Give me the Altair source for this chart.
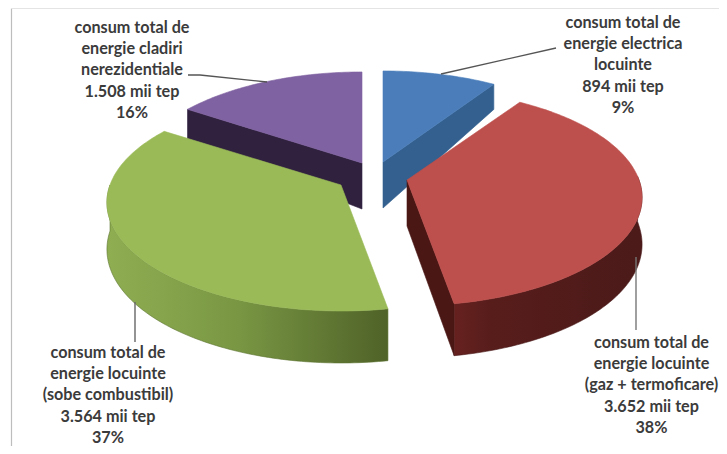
import math
import altair as alt
import pandas as pd

categories = [
    "consum total de energie electrica locuinte",
    "consum total de energie locuinte (gaz + termoficare)",
    "consum total de energie locuinte (sobe combustibil)",
    "consum total de energie cladiri nerezidentiale",
]
values = [894, 3652, 3564, 1508]
value_labels = ["894 mii tep", "3.652 mii tep", "3.564 mii tep", "1.508 mii tep"]
percents = ["9%", "38%", "37%", "16%"]
name_lines = [
    ["consum total de", "energie electrica", "locuinte"],
    ["consum total de", "energie locuinte", "(gaz + termoficare)"],
    ["consum total de", "energie locuinte", "(sobe combustibil)"],
    ["consum total de", "energie cladiri", "nerezidentiale"],
]

# layout of the exploded, tilted pie
W, H = 711, 438
APEX = [(383, 162), (407, 180), (341, 185), (362, 163)]
RX = [228, 232, 231, 228]
RY, PERSP = 105.7, 0.161
TOP_COL = ["#4a7dba", "#bd4f4c", "#9aba58", "#7f62a1"]
LABEL_POS = [(623, 23), (651.5, 343), (108, 353), (132, 28)]
LINE_H = 21.2

xs = alt.Scale(domain=[8, 8 + W], range=[0, W], nice=False, zero=False)
ys = alt.Scale(domain=[8 + H, 8], nice=False, zero=False)


def project(i, a):
    u, v = math.sin(a), -math.cos(a)
    k = 1 - PERSP * v
    return u * RX[i] / k, RY * v / k, v


def depth(v):
    return 46 + 25 * v if v < 0 else 46 + 6 * v


def rim(i, a):
    dx, dy, v = project(i, a)
    return APEX[i][0] + dx, APEX[i][1] + dy, depth(v)


def poly(points, fill, stroke=None):
    df = pd.DataFrame([{"x": p[0], "y": p[1], "o": n} for n, p in enumerate(points)])
    return alt.Chart(df).mark_line(
        fill=fill, stroke=stroke if stroke else fill, strokeWidth=0.6, interpolate="linear"
    ).encode(
        x=alt.X("x:Q", scale=xs, axis=None),
        y=alt.Y("y:Q", scale=ys, axis=None),
        order="o:Q",
    )


def seg(points, color, width=1.4):
    df = pd.DataFrame([{"x": p[0], "y": p[1], "o": n} for n, p in enumerate(points)])
    return alt.Chart(df).mark_line(stroke=color, strokeWidth=width).encode(
        x=alt.X("x:Q", scale=xs, axis=None),
        y=alt.Y("y:Q", scale=ys, axis=None),
        order="o:Q",
    )


def grad(stops):
    return alt.Gradient(
        gradient="linear", x1=0, x2=1, y1=0, y2=0,
        stops=[alt.GradientStop(offset=o, color=c) for o, c in stops],
    )


total = sum(values)
bounds = [0]
for val in values:
    bounds.append(bounds[-1] + val / total * 2 * math.pi)


def arc_angles(a0, a1):
    n = max(2, int(abs(a1 - a0) / math.radians(1)))
    return [a0 + (a1 - a0) * j / n for j in range(n + 1)]


def top(i):
    pts = [APEX[i]]
    for a in arc_angles(bounds[i], bounds[i + 1]):
        x, y, _ = rim(i, a)
        pts.append((x, y))
    pts.append(APEX[i])
    return poly(pts, TOP_COL[i])


def cut(i, a, fill):
    x, y, d = rim(i, a)
    ax, ay = APEX[i]
    return poly([(ax, ay), (x, y), (x, y + d), (ax, ay + 46), (ax, ay)], fill)


def wall(i, a0, a1, fill):
    angs = arc_angles(a0, a1)
    t, b = [], []
    for a in angs:
        x, y, d = rim(i, a)
        t.append((x, y))
        b.append((x, y + d))
    return poly(t + b[::-1] + [t[0]], fill, "#4a1a1a" if i == 1 else "#5c7430")


layers = [
    # frame of the picture
    seg([(11.5, 8.5), (11.5, 446)], "#bdbdbd", 1.2),
    seg([(11.5, 8.5), (719, 8.5)], "#e4e4e4", 1.2),
    # back slices
    cut(3, bounds[3], "#30213f"),
    top(3),
    cut(0, bounds[1], "#33608f"),
    top(0),
    # front slices
    wall(2, bounds[2], math.radians(270), grad([(0, "#8fae52"), (0.45, "#7a9844"), (1, "#4f6228")])),
    top(2),
    cut(1, bounds[2], "#4a1715"),
    wall(1, math.radians(88), bounds[2], grad([(0, "#66211f"), (0.2, "#571d1b"), (1, "#4b1a19")])),
    top(1),
    # leader lines
    seg([(556, 48), (441, 74)], "#555555"),
    seg([(188, 75), (200, 75), (267, 82)], "#555555"),
    seg([(135, 302), (135, 342)], "#666666"),
    seg([(636, 257), (636, 330)], "#777777"),
]

label_rows = []
for i in range(4):
    label_rows.append({
        "t": "\n".join(name_lines[i] + [value_labels[i], percents[i]]),
        "x": LABEL_POS[i][0],
        "y": LABEL_POS[i][1],
    })
labels = alt.Chart(pd.DataFrame(label_rows)).mark_text(
    font="Lato", fontWeight="bold", fontSize=16.2, color="#3b3b3b",
    lineBreak="\n", lineHeight=LINE_H, align="center", baseline="middle",
).encode(
    x=alt.X("x:Q", scale=xs, axis=None),
    y=alt.Y("y:Q", scale=ys, axis=None),
    text="t:N",
)

chart = alt.layer(*layers, labels).properties(
    width=W, height=H, padding=0, autosize=alt.AutoSizeParams(type="none"), background="white"
).configure_view(stroke=None)

chart.save("out.html", embed_options={"renderer": "svg", "actions": False})
